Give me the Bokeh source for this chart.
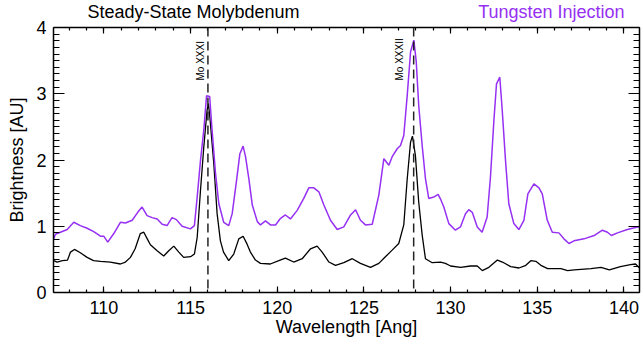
from bokeh.plotting import figure
from bokeh.layouts import column
from bokeh.models import Range1d, LinearAxis, Span, Label, FixedTicker
from bokeh.embed import file_html
from bokeh.resources import INLINE

# ---- data ----
wl_mo = [107.1, 107.3, 107.6, 107.9, 108.07, 108.3, 108.64, 109.03, 109.4, 109.8,
         110.37, 110.95, 111.24, 111.53, 111.8, 112.1, 112.3, 112.5, 112.68, 113.07,
         113.45, 113.74, 114.03, 114.32, 114.6, 115.0, 115.22, 115.38, 115.57, 115.76,
         115.95, 116.03, 116.12, 116.34, 116.53, 116.72, 116.9, 117.2, 117.49, 117.78,
         118.03, 118.26, 118.45, 118.74, 119.03, 119.6, 120.09, 120.47, 120.95, 121.44,
         121.92, 122.3, 122.59, 122.98, 123.36, 123.84, 124.33, 124.8, 125.38, 125.86,
         126.24, 126.63, 127.01, 127.3, 127.5, 127.69, 127.8, 127.97, 128.16, 128.36,
         128.55, 128.94, 129.42, 129.7, 130.0, 130.58, 131.15, 131.54, 131.83, 132.21,
         132.7, 132.99, 133.47, 133.95, 134.34, 134.63, 134.92, 135.21, 135.6, 136.37,
         136.75, 137.14, 138.1, 138.68, 139.16, 139.8, 140.38, 140.67, 140.9]
br_mo = [0.48, 0.46, 0.48, 0.49, 0.61, 0.65, 0.60, 0.53, 0.48, 0.47,
         0.46, 0.43, 0.46, 0.53, 0.66, 0.89, 0.91, 0.81, 0.72, 0.63,
         0.55, 0.63, 0.70, 0.61, 0.53, 0.54, 0.58, 0.83, 1.54, 2.19,
         2.75, 2.85, 2.62, 1.94, 1.19, 0.78, 0.61, 0.48, 0.58, 0.81,
         0.85, 0.73, 0.61, 0.49, 0.44, 0.43, 0.48, 0.52, 0.46, 0.51,
         0.66, 0.70, 0.61, 0.46, 0.41, 0.45, 0.51, 0.44, 0.38, 0.44,
         0.54, 0.64, 0.74, 1.02, 1.72, 2.27, 2.36, 2.07, 1.37, 0.87,
         0.51, 0.45, 0.46, 0.44, 0.40, 0.38, 0.40, 0.40, 0.33, 0.38,
         0.49, 0.46, 0.39, 0.37, 0.41, 0.48, 0.47, 0.41, 0.36, 0.36,
         0.33, 0.34, 0.36, 0.38, 0.34, 0.39, 0.42, 0.43, 0.37]

wl_w = [107.09, 107.2, 107.49, 107.88, 108.26, 108.64, 109.03, 109.41, 109.8, 109.99,
        110.22, 110.57, 110.95, 111.24, 111.63, 111.95, 112.2, 112.49, 112.78, 113.07,
        113.36, 113.64, 113.93, 114.18, 114.51, 114.99, 115.22, 115.38, 115.57, 115.76,
        115.92, 116.1, 116.24, 116.44, 116.63, 116.91, 117.2, 117.4, 117.65, 117.84,
        118.03, 118.17, 118.36, 118.56, 118.85, 119.03, 119.32, 119.61, 119.9, 120.19,
        120.47, 120.76, 121.15, 121.53, 121.82, 122.11, 122.4, 122.69, 123.07, 123.46,
        123.84, 124.23, 124.52, 124.8, 125.09, 125.48, 125.86, 126.15, 126.44, 126.63,
        126.92, 127.11, 127.3, 127.5, 127.69, 127.88, 128.02, 128.16, 128.36, 128.55,
        128.74, 129.03, 129.28, 129.42, 129.61, 129.9, 130.28, 130.57, 130.86, 131.05,
        131.25, 131.54, 131.82, 132.11, 132.3, 132.5, 132.65, 132.84, 132.98, 133.17,
        133.36, 133.65, 133.94, 134.23, 134.46, 134.81, 135.1, 135.29, 135.58, 135.87,
        136.25, 136.54, 136.83, 137.12, 137.7, 138.28, 138.76, 139.05, 139.28, 139.63,
        140.2, 140.78, 140.9]
br_w = [0.80, 0.88, 0.91, 0.95, 1.06, 1.01, 0.97, 0.92, 0.85, 0.85,
        0.76, 0.89, 1.06, 1.05, 1.09, 1.21, 1.29, 1.16, 1.13, 1.11,
        1.03, 1.01, 1.13, 1.10, 1.00, 0.96, 1.01, 1.44, 1.99, 2.45,
        2.97, 2.96, 2.45, 1.79, 1.34, 1.06, 1.01, 1.19, 1.69, 2.09,
        2.21, 2.05, 1.72, 1.32, 1.07, 1.02, 1.08, 1.02, 1.02, 1.12,
        1.17, 1.11, 1.24, 1.42, 1.58, 1.58, 1.52, 1.32, 1.09, 0.95,
        0.99, 1.17, 1.25, 1.09, 1.02, 1.03, 1.47, 2.02, 1.92, 2.05,
        2.17, 2.22, 2.37, 2.98, 3.63, 3.81, 3.48, 2.83, 2.22, 1.72,
        1.42, 1.44, 1.48, 1.41, 1.29, 1.04, 0.94, 0.99, 1.19, 1.25,
        1.21, 0.99, 0.91, 1.14, 1.74, 2.60, 3.15, 3.25, 2.75, 1.99,
        1.34, 1.04, 0.95, 1.09, 1.49, 1.64, 1.58, 1.49, 1.09, 0.91,
        0.90, 0.81, 0.74, 0.78, 0.81, 0.86, 0.94, 0.91, 0.86, 0.90,
        0.95, 0.99, 0.99]

line_wl = [116.0, 127.87]
line_names = ["Mo XXXI", "Mo XXXII"]
line_label_wl = [115.57, 127.07]
line_label_y = 3.2

x_major = [110, 115, 120, 125, 130, 135, 140]
y_major = [0, 1, 2, 3, 4]

title_left = "Steady-State Molybdenum"
title_right = "Tungsten Injection"
xlabel = "Wavelength [Ang]"
ylabel = "Brightness [AU]"

PURPLE = "#9630F2"
FONT = "Liberation Sans"

xr = Range1d(107.09, 140.9)

# ---- title strip (frame covers the whole strip) ----
t = figure(width=642, height=27, output_backend="svg", toolbar_location=None, title=None,
           x_range=xr, y_range=Range1d(0, 27), x_axis_type=None, y_axis_type=None,
           min_border=0, min_border_left=53, min_border_right=3,
           min_border_top=0, min_border_bottom=0)
t.xgrid.visible = False
t.ygrid.visible = False
t.outline_line_color = None
t.background_fill_color = "white"
t.border_fill_color = "white"
t.add_layout(Label(x=109.05, y=25.5, text=title_left, text_align="left",
                   text_baseline="top", text_font=FONT,
                   text_font_size="18px", text_color="black"))
t.add_layout(Label(x=140.04, y=25.5, text=title_right, text_align="right",
                   text_baseline="top", text_font=FONT,
                   text_font_size="18px", text_color=PURPLE))

# ---- main plot (overlaps the strip; its border is transparent) ----
p = figure(width=642, height=343, output_backend="svg", toolbar_location=None, title=None,
           x_range=xr, y_range=Range1d(0, 4),
           min_border_left=53, min_border_right=3, min_border_top=27, min_border_bottom=51)
p.styles = {"margin-top": "-27px"}
p.xgrid.visible = False
p.ygrid.visible = False
p.outline_line_color = None
p.background_fill_color = "white"
p.border_fill_alpha = 0

xt = FixedTicker(ticks=x_major, minor_ticks=[v for v in range(107, 142)])
yt = FixedTicker(ticks=y_major, minor_ticks=[i / 10 for i in range(0, 41)])

def style_axis(ax, ticker, major_len, minor_len, labels, standoff):
    ax.ticker = ticker
    ax.axis_line_width = 1.5
    ax.axis_line_color = "black"
    ax.major_tick_in = major_len
    ax.major_tick_out = 0
    ax.minor_tick_in = minor_len
    ax.minor_tick_out = 0
    ax.major_tick_line_width = 1.2
    ax.minor_tick_line_width = 1.2
    ax.major_label_text_font = FONT
    ax.major_label_text_color = "black"
    ax.major_label_text_font_size = "18px"
    ax.major_label_standoff = standoff
    if not labels:
        ax.major_label_overrides = {v: "" for v in ticker.ticks}
        ax.major_label_standoff = 0
        ax.axis_label_standoff = 0

style_axis(p.xaxis[0], xt, 6, 3, True, 8)
style_axis(p.yaxis[0], yt, 11, 6, True, 7)
p.xaxis[0].axis_label = xlabel
p.yaxis[0].axis_label = ylabel
for ax in (p.xaxis[0], p.yaxis[0]):
    ax.axis_label_text_font = FONT
    ax.axis_label_text_font_size = "18px"
    ax.axis_label_text_font_style = "normal"
    ax.axis_label_text_color = "black"
p.xaxis[0].axis_label_standoff = 0
p.yaxis[0].axis_label_standoff = 6

top = LinearAxis()
style_axis(top, xt, 6, 3, False, 0)
p.add_layout(top, "above")
right = LinearAxis()
style_axis(right, yt, 11, 6, False, 0)
p.add_layout(right, "right")

p.line(wl_mo, br_mo, line_color="black", line_width=1.3)
p.line(wl_w, br_w, line_color=PURPLE, line_width=1.5)

for wl in line_wl:
    p.add_layout(Span(location=wl, dimension="height", line_color="#222222",
                      line_width=1.5, line_dash="9 5"))

for name, lx in zip(line_names, line_label_wl):
    p.add_layout(Label(x=lx, y=line_label_y, text=name, angle=1.5707963,
                       text_align="left", text_baseline="alphabetic",
                       text_font=FONT, text_font_size="10px", text_color="black"))

open("out.html", "w").write(file_html(column(t, p, spacing=0), INLINE))
